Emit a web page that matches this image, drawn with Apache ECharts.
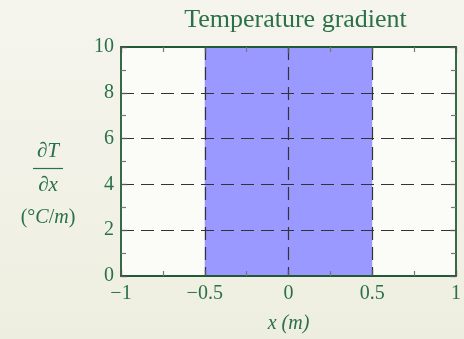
<!DOCTYPE html>
<html><head><meta charset="utf-8">
<script src="https://cdn.jsdelivr.net/npm/echarts@6/dist/echarts.min.js"></script>
<style>html,body{margin:0;padding:0;}#c{width:464px;height:339px;}</style>
</head><body><div id="c"></div>
<script>
// Data
const titleText = 'Temperature gradient';
const xRange = [-1, 1];
const yRange = [0, 10];
const xTickStep = 0.5;
const yTickStep = 2;
const bandX = [-0.5, 0.5];   // shaded region in x
const bandY = [0, 10];       // shaded region in y

const green = '#2a7048';
const frame = '#1f5a34';
const font = '"Liberation Serif", "Times New Roman", serif';
const fmt = v => String(v).replace('-', '\u2212');

const chart = echarts.init(document.getElementById('c'));
const axisCommon = {
  z: 3,
  axisLine: {show: true, onZero: false, lineStyle: {color: frame, width: 1.8}},
  axisTick: {show: true, inside: true, length: 6, lineStyle: {color: '#555', width: 1.3}},
  minorTick: {show: true, splitNumber: 2, length: 5, lineStyle: {color: '#777', width: 1.2}},
};
const splitStyle = {show: true, showMinLine: false, showMaxLine: false,
  lineStyle: {color: '#333', type: [13, 7], width: 1.2}};
chart.setOption({
  backgroundColor: new echarts.graphic.LinearGradient(0, 0, 0, 1, [
    {offset: 0, color: '#f5f5ee'}, {offset: 1, color: '#eeeee0'}]),
  animation: false,
  title: {text: titleText, left: 290.5, textAlign: 'center', top: 2,
    textStyle: {color: green, fontFamily: font, fontWeight: 'normal', fontSize: 26}},
  grid: {left: 121, right: 4, top: 47, bottom: 58, show: true,
    backgroundColor: '#fbfbf7', borderWidth: 0},
  xAxis: [
    Object.assign({}, axisCommon, {type: 'value', min: xRange[0], max: xRange[1], interval: xTickStep,
      position: 'bottom',
      axisLabel: {color: green, fontFamily: font, fontSize: 20, margin: 8, formatter: fmt},
      splitLine: splitStyle,
      name: 'x (m)', nameLocation: 'middle', nameGap: 38,
      nameTextStyle: {color: green, fontFamily: font, fontSize: 20, fontStyle: 'italic'}}),
    Object.assign({}, axisCommon, {type: 'value', min: xRange[0], max: xRange[1], interval: xTickStep,
      position: 'top', axisLabel: {show: false}, splitLine: {show: false}})
  ],
  yAxis: [
    Object.assign({}, axisCommon, {type: 'value', min: yRange[0], max: yRange[1], interval: yTickStep,
      position: 'left',
      axisLabel: {color: green, fontFamily: font, fontSize: 20, margin: 7, formatter: fmt},
      splitLine: splitStyle}),
    Object.assign({}, axisCommon, {type: 'value', min: yRange[0], max: yRange[1], interval: yTickStep,
      position: 'right', axisLabel: {show: false}, splitLine: {show: false}})
  ],
  series: [{
    type: 'custom', z: 2,
    data: [[bandX[0], bandX[1], bandY[0], bandY[1]]],
    renderItem: (params, api) => {
      const p1 = api.coord([api.value(0), api.value(3)]);
      const p2 = api.coord([api.value(1), api.value(2)]);
      return {type: 'rect', shape: {x: p1[0], y: p1[1], width: p2[0] - p1[0], height: p2[1] - p1[1]},
        style: {fill: '#9999ff'}};
    }
  }],
  graphic: [
    {type: 'group', x: 48, y: 0, children: [
      {type: 'text', x: 0, y: 151, style: {text: '\u2202T', font: 'italic 21px ' + font, fill: green, align: 'center', verticalAlign: 'middle'}},
      {type: 'line', shape: {x1: -15, y1: 168.5, x2: 15, y2: 168.5}, style: {stroke: green, lineWidth: 1.2}},
      {type: 'text', x: 0, y: 185, style: {text: '\u2202x', font: 'italic 21px ' + font, fill: green, align: 'center', verticalAlign: 'middle'}},
      {type: 'text', x: 0, y: 218, style: {
        text: '{n|(\u00b0}{i|C}{n|/}{i|m}{n|)}', align: 'center', verticalAlign: 'middle',
        rich: {n: {font: '20px ' + font, fill: green}, i: {font: 'italic 20px ' + font, fill: green}}}}
    ]}
  ]
});
</script></body></html>
